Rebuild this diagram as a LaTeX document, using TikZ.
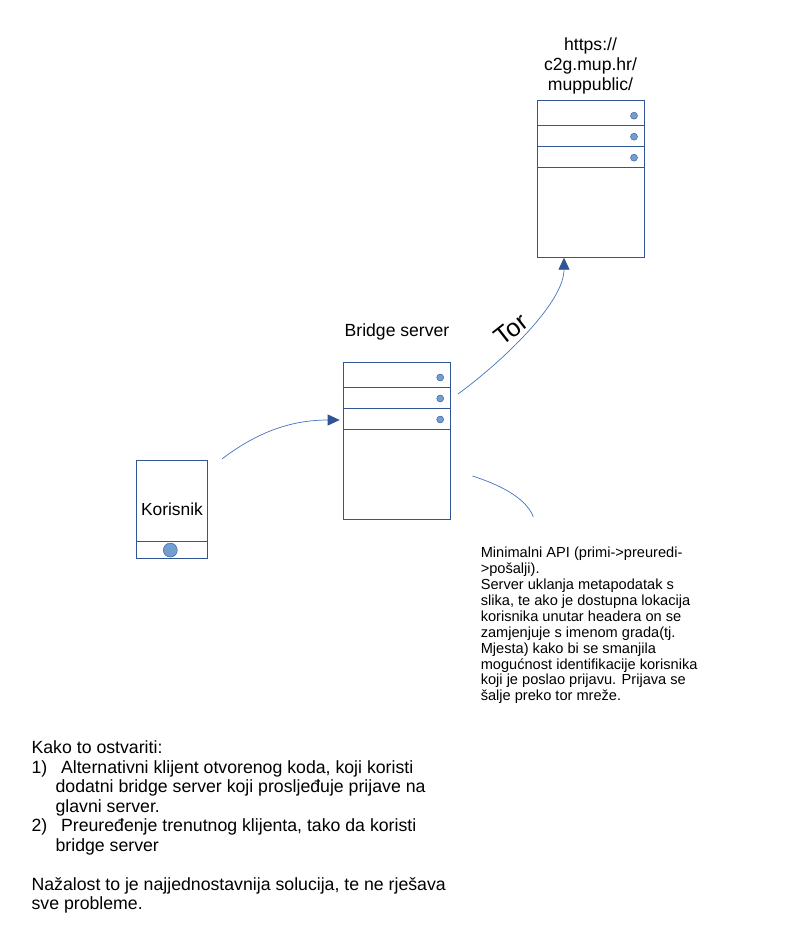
\documentclass[tikz,border=0pt]{standalone}
\usepackage{fontspec}
\setmainfont{Liberation Sans}
\usetikzlibrary{arrows.meta}

\definecolor{srvblue}{RGB}{47,85,151}
\definecolor{flowblue}{RGB}{68,114,196}
\definecolor{ledblue}{RGB}{114,159,207}

\tikzset{
  server/.style={draw=srvblue, line width=1pt, minimum width=107pt, minimum height=157pt, inner sep=0pt},
  client/.style={draw=srvblue, line width=1pt, minimum width=70.6pt, minimum height=98pt, inner sep=0pt, font=\fontsize{17.4}{20}\selectfont},
  divider/.style={draw=srvblue, line width=1pt},
  led/.style={circle, draw=srvblue, line width=0.4pt, fill=ledblue, minimum size=7pt, inner sep=0pt},
  flow/.style={draw=flowblue, line width=0.7pt},
  flowarrow/.style={flow, -{Triangle[length=12pt,width=11pt,color=srvblue]}},
  caption/.style={inner sep=0pt, font=\fontsize{17.6}{20}\selectfont},
  note/.style={inner sep=0pt, align=left, anchor=north west}
}

\begin{document}
\begin{tikzpicture}[x=1pt, y=-1pt]
\fill[white] (0,0) rectangle (794,934);
\node[server] (mup) at (590.5,178.7) {};
\node[server] (bridge) at (396.7,440.5) {};
\node[client] (kor) at (172,509.3) {Korisnik};
\node[caption, align=center] (mupname) at (590.5,66) {https://\\c2g.mup.hr/\\muppublic/};
\node[caption] (bridgename) at (397,332) {Bridge server};

\foreach \s in {mup,bridge}
  \foreach \d/\l in {26/16,47/37,68/58}{
    \draw[divider] ([yshift=-\d]\s.north west) -- ([yshift=-\d]\s.north east);
    \node[led] (\s-led\d) at ([xshift=-10.5,yshift=-\l]\s.north east) {};
  }
\draw[divider] ([yshift=17pt]kor.south west) -- ([yshift=17pt]kor.south east);
\node[led, minimum size=14pt] (kor-led) at ([xshift=-1.7pt,yshift=8.7pt]kor.south) {};

\draw[flowarrow] ([xshift=14.4pt,yshift=1pt]kor.north east) .. controls +(38,-29) and +(-45,0) .. ([xshift=-3pt,yshift=20.5pt]bridge.west);
\draw[flowarrow] ([xshift=7.3pt,yshift=46.5pt]bridge.east) .. controls +(45,-33) and +(0,45) .. ([xshift=-26.5pt]mup.south)
  node[pos=0.45, xshift=-10pt, yshift=8pt, rotate=38, inner sep=0pt, font=\fontsize{25}{28}\selectfont] (tor) {Tor};

\node[note, font=\fontsize{14.6}{15.9}\selectfont] (api) at (480.6,547) {Minimalni API (primi->preuredi-\\
>pošalji).\\
Server uklanja metapodatak s\\
slika, te ako je dostupna lokacija\\
korisnika unutar headera on se\\
zamjenjuje s imenom grada(tj.\\
Mjesta) kako bi se smanjila\\
mogućnost identifikacije korisnika\\
koji je poslao prijavu. Prijava se\\
šalje preko tor mreže.};
\draw[flow] ([xshift=21.7pt,yshift=-35.5pt]bridge.east) .. controls +(25,8) and +(-8,-20) .. ([xshift=52.7pt,yshift=30.3pt]api.north west);

\node[note, font=\fontsize{17.7}{19.5}\selectfont] (how) at (31.4,740.5) {Kako to ostvariti:\\
\makebox[29.5pt][l]{1)}Alternativni klijent otvorenog koda, koji koristi\\
\hspace*{24pt}dodatni bridge server koji prosljeđuje prijave na\\
\hspace*{24pt}glavni server.\\
\makebox[29.5pt][l]{2)}Preuređenje trenutnog klijenta, tako da koristi\\
\hspace*{24pt}bridge server\\[19.5pt]
Nažalost to je najjednostavnija solucija, te ne rješava\\
sve probleme.};
\end{tikzpicture}
\end{document}
